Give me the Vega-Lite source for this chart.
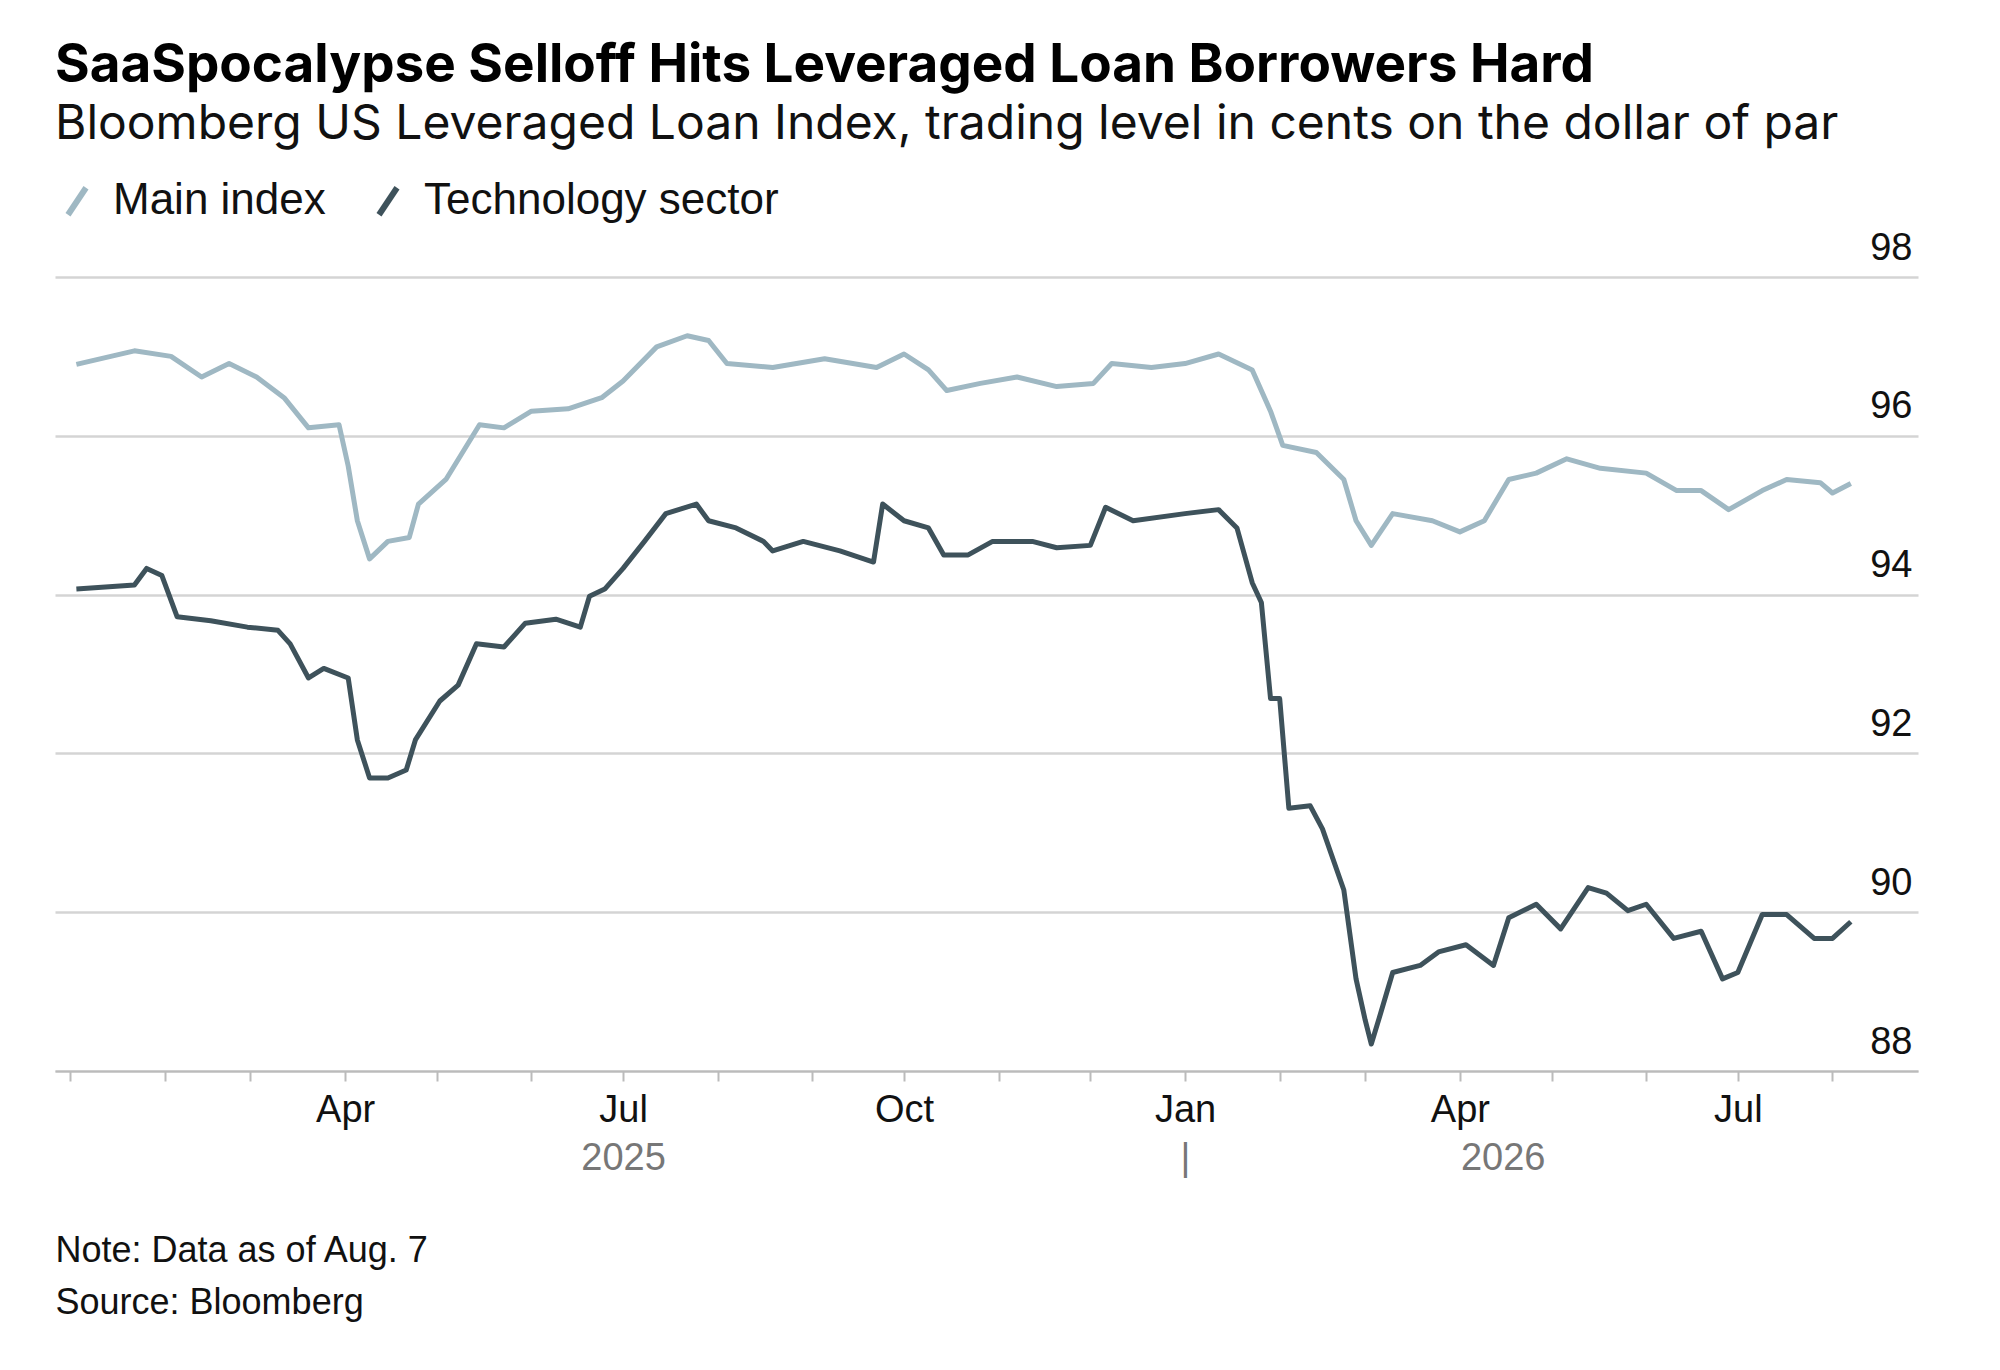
{
  "$schema": "https://vega.github.io/schema/vega-lite/v6.json",
  "width": 2000,
  "height": 1370,
  "autosize": {"type": "fit", "contains": "padding"},
  "padding": {"left": 55, "right": 82, "top": 40, "bottom": 50},
  "background": "white",
  "config": {
    "font": "Inter",
    "view": {"stroke": null},
    "axis": {"labelFont": "Liberation Sans", "labelFontSize": 38, "labelColor": "#111"},
    "legend": {"labelFont": "Liberation Sans", "labelFontSize": 44, "labelColor": "#111", "labelLimit": 0}
  },
  "title": {
    "text": "SaaSpocalypse Selloff Hits Leveraged Loan Borrowers Hard",
    "subtitle": "Bloomberg US Leveraged Loan Index, trading level in cents on the dollar of par",
    "anchor": "start",
    "font": "Inter",
    "fontSize": 53,
    "fontWeight": "bold",
    "color": "#000",
    "subtitleFont": "Inter",
    "subtitleFontSize": 48,
    "subtitleColor": "#111",
    "subtitlePadding": 8,
    "offset": 30
  },
  "datasets": {
    "loans": [
      {"date": "2025-01-03", "series": "Main index", "value": 96.9},
      {"date": "2025-01-22", "series": "Main index", "value": 97.07},
      {"date": "2025-02-03", "series": "Main index", "value": 97.0},
      {"date": "2025-02-13", "series": "Main index", "value": 96.74},
      {"date": "2025-02-22", "series": "Main index", "value": 96.91},
      {"date": "2025-03-03", "series": "Main index", "value": 96.74},
      {"date": "2025-03-12", "series": "Main index", "value": 96.48},
      {"date": "2025-03-20", "series": "Main index", "value": 96.1},
      {"date": "2025-03-30", "series": "Main index", "value": 96.14},
      {"date": "2025-04-02", "series": "Main index", "value": 95.62},
      {"date": "2025-04-05", "series": "Main index", "value": 94.93},
      {"date": "2025-04-09", "series": "Main index", "value": 94.45},
      {"date": "2025-04-15", "series": "Main index", "value": 94.67},
      {"date": "2025-04-22", "series": "Main index", "value": 94.72},
      {"date": "2025-04-25", "series": "Main index", "value": 95.14},
      {"date": "2025-05-04", "series": "Main index", "value": 95.45},
      {"date": "2025-05-15", "series": "Main index", "value": 96.14},
      {"date": "2025-05-23", "series": "Main index", "value": 96.1},
      {"date": "2025-06-01", "series": "Main index", "value": 96.31},
      {"date": "2025-06-13", "series": "Main index", "value": 96.34},
      {"date": "2025-06-24", "series": "Main index", "value": 96.48},
      {"date": "2025-07-01", "series": "Main index", "value": 96.69},
      {"date": "2025-07-12", "series": "Main index", "value": 97.12},
      {"date": "2025-07-22", "series": "Main index", "value": 97.26},
      {"date": "2025-07-29", "series": "Main index", "value": 97.2},
      {"date": "2025-08-04", "series": "Main index", "value": 96.91},
      {"date": "2025-08-19", "series": "Main index", "value": 96.86},
      {"date": "2025-09-05", "series": "Main index", "value": 96.97},
      {"date": "2025-09-22", "series": "Main index", "value": 96.86},
      {"date": "2025-10-01", "series": "Main index", "value": 97.03},
      {"date": "2025-10-09", "series": "Main index", "value": 96.83},
      {"date": "2025-10-15", "series": "Main index", "value": 96.57},
      {"date": "2025-10-26", "series": "Main index", "value": 96.66},
      {"date": "2025-11-07", "series": "Main index", "value": 96.74},
      {"date": "2025-11-20", "series": "Main index", "value": 96.62},
      {"date": "2025-12-02", "series": "Main index", "value": 96.66},
      {"date": "2025-12-08", "series": "Main index", "value": 96.91},
      {"date": "2025-12-21", "series": "Main index", "value": 96.86},
      {"date": "2026-01-01", "series": "Main index", "value": 96.91},
      {"date": "2026-01-12", "series": "Main index", "value": 97.03},
      {"date": "2026-01-23", "series": "Main index", "value": 96.83},
      {"date": "2026-01-29", "series": "Main index", "value": 96.31},
      {"date": "2026-02-02", "series": "Main index", "value": 95.88},
      {"date": "2026-02-13", "series": "Main index", "value": 95.79},
      {"date": "2026-02-22", "series": "Main index", "value": 95.45},
      {"date": "2026-02-26", "series": "Main index", "value": 94.93},
      {"date": "2026-03-03", "series": "Main index", "value": 94.62},
      {"date": "2026-03-10", "series": "Main index", "value": 95.02},
      {"date": "2026-03-23", "series": "Main index", "value": 94.93},
      {"date": "2026-04-01", "series": "Main index", "value": 94.79},
      {"date": "2026-04-09", "series": "Main index", "value": 94.93},
      {"date": "2026-04-17", "series": "Main index", "value": 95.45},
      {"date": "2026-04-26", "series": "Main index", "value": 95.53},
      {"date": "2026-05-06", "series": "Main index", "value": 95.71},
      {"date": "2026-05-17", "series": "Main index", "value": 95.59},
      {"date": "2026-06-01", "series": "Main index", "value": 95.53},
      {"date": "2026-06-11", "series": "Main index", "value": 95.31},
      {"date": "2026-06-19", "series": "Main index", "value": 95.31},
      {"date": "2026-06-28", "series": "Main index", "value": 95.07},
      {"date": "2026-07-09", "series": "Main index", "value": 95.31},
      {"date": "2026-07-17", "series": "Main index", "value": 95.45},
      {"date": "2026-07-28", "series": "Main index", "value": 95.41},
      {"date": "2026-08-01", "series": "Main index", "value": 95.28},
      {"date": "2026-08-07", "series": "Main index", "value": 95.4},
      {"date": "2025-01-03", "series": "Technology sector", "value": 94.07},
      {"date": "2025-01-22", "series": "Technology sector", "value": 94.12},
      {"date": "2025-01-26", "series": "Technology sector", "value": 94.33},
      {"date": "2025-01-31", "series": "Technology sector", "value": 94.24},
      {"date": "2025-02-05", "series": "Technology sector", "value": 93.72},
      {"date": "2025-02-16", "series": "Technology sector", "value": 93.67},
      {"date": "2025-02-28", "series": "Technology sector", "value": 93.59},
      {"date": "2025-03-10", "series": "Technology sector", "value": 93.55},
      {"date": "2025-03-14", "series": "Technology sector", "value": 93.38},
      {"date": "2025-03-20", "series": "Technology sector", "value": 92.95},
      {"date": "2025-03-25", "series": "Technology sector", "value": 93.07},
      {"date": "2025-04-02", "series": "Technology sector", "value": 92.95},
      {"date": "2025-04-05", "series": "Technology sector", "value": 92.17},
      {"date": "2025-04-09", "series": "Technology sector", "value": 91.69},
      {"date": "2025-04-15", "series": "Technology sector", "value": 91.69},
      {"date": "2025-04-21", "series": "Technology sector", "value": 91.79},
      {"date": "2025-04-24", "series": "Technology sector", "value": 92.17},
      {"date": "2025-05-02", "series": "Technology sector", "value": 92.66},
      {"date": "2025-05-08", "series": "Technology sector", "value": 92.86},
      {"date": "2025-05-14", "series": "Technology sector", "value": 93.38},
      {"date": "2025-05-23", "series": "Technology sector", "value": 93.34},
      {"date": "2025-05-30", "series": "Technology sector", "value": 93.64},
      {"date": "2025-06-09", "series": "Technology sector", "value": 93.69},
      {"date": "2025-06-17", "series": "Technology sector", "value": 93.59},
      {"date": "2025-06-20", "series": "Technology sector", "value": 93.98},
      {"date": "2025-06-25", "series": "Technology sector", "value": 94.07},
      {"date": "2025-07-01", "series": "Technology sector", "value": 94.33},
      {"date": "2025-07-08", "series": "Technology sector", "value": 94.67},
      {"date": "2025-07-15", "series": "Technology sector", "value": 95.02},
      {"date": "2025-07-25", "series": "Technology sector", "value": 95.14},
      {"date": "2025-07-29", "series": "Technology sector", "value": 94.93},
      {"date": "2025-08-07", "series": "Technology sector", "value": 94.84},
      {"date": "2025-08-16", "series": "Technology sector", "value": 94.67},
      {"date": "2025-08-19", "series": "Technology sector", "value": 94.55},
      {"date": "2025-08-29", "series": "Technology sector", "value": 94.67},
      {"date": "2025-09-10", "series": "Technology sector", "value": 94.55},
      {"date": "2025-09-21", "series": "Technology sector", "value": 94.41},
      {"date": "2025-09-24", "series": "Technology sector", "value": 95.14},
      {"date": "2025-10-01", "series": "Technology sector", "value": 94.93},
      {"date": "2025-10-09", "series": "Technology sector", "value": 94.84},
      {"date": "2025-10-14", "series": "Technology sector", "value": 94.5},
      {"date": "2025-10-22", "series": "Technology sector", "value": 94.5},
      {"date": "2025-10-30", "series": "Technology sector", "value": 94.67},
      {"date": "2025-11-12", "series": "Technology sector", "value": 94.67},
      {"date": "2025-11-20", "series": "Technology sector", "value": 94.59},
      {"date": "2025-12-01", "series": "Technology sector", "value": 94.62},
      {"date": "2025-12-06", "series": "Technology sector", "value": 95.1},
      {"date": "2025-12-15", "series": "Technology sector", "value": 94.93},
      {"date": "2026-01-01", "series": "Technology sector", "value": 95.02},
      {"date": "2026-01-12", "series": "Technology sector", "value": 95.07},
      {"date": "2026-01-18", "series": "Technology sector", "value": 94.84},
      {"date": "2026-01-23", "series": "Technology sector", "value": 94.15},
      {"date": "2026-01-26", "series": "Technology sector", "value": 93.9},
      {"date": "2026-01-29", "series": "Technology sector", "value": 92.69},
      {"date": "2026-02-01", "series": "Technology sector", "value": 92.69},
      {"date": "2026-02-04", "series": "Technology sector", "value": 91.31},
      {"date": "2026-02-11", "series": "Technology sector", "value": 91.34},
      {"date": "2026-02-15", "series": "Technology sector", "value": 91.05},
      {"date": "2026-02-22", "series": "Technology sector", "value": 90.28},
      {"date": "2026-02-26", "series": "Technology sector", "value": 89.16},
      {"date": "2026-03-01", "series": "Technology sector", "value": 88.64},
      {"date": "2026-03-03", "series": "Technology sector", "value": 88.34},
      {"date": "2026-03-06", "series": "Technology sector", "value": 88.72},
      {"date": "2026-03-10", "series": "Technology sector", "value": 89.24},
      {"date": "2026-03-19", "series": "Technology sector", "value": 89.33},
      {"date": "2026-03-25", "series": "Technology sector", "value": 89.5},
      {"date": "2026-04-03", "series": "Technology sector", "value": 89.59},
      {"date": "2026-04-12", "series": "Technology sector", "value": 89.33},
      {"date": "2026-04-17", "series": "Technology sector", "value": 89.93},
      {"date": "2026-04-26", "series": "Technology sector", "value": 90.1},
      {"date": "2026-05-04", "series": "Technology sector", "value": 89.79},
      {"date": "2026-05-13", "series": "Technology sector", "value": 90.31},
      {"date": "2026-05-19", "series": "Technology sector", "value": 90.24},
      {"date": "2026-05-26", "series": "Technology sector", "value": 90.02},
      {"date": "2026-06-01", "series": "Technology sector", "value": 90.1},
      {"date": "2026-06-10", "series": "Technology sector", "value": 89.67},
      {"date": "2026-06-19", "series": "Technology sector", "value": 89.76},
      {"date": "2026-06-26", "series": "Technology sector", "value": 89.16},
      {"date": "2026-07-01", "series": "Technology sector", "value": 89.24},
      {"date": "2026-07-09", "series": "Technology sector", "value": 89.97},
      {"date": "2026-07-17", "series": "Technology sector", "value": 89.97},
      {"date": "2026-07-26", "series": "Technology sector", "value": 89.67},
      {"date": "2026-08-01", "series": "Technology sector", "value": 89.67},
      {"date": "2026-08-07", "series": "Technology sector", "value": 89.88}
    ]
  },
  "data": {"name": "loans"},
  "resolve": {"axis": {"x": "independent"}},
  "layer": [
    {
      "mark": {"type": "line", "strokeWidth": 5, "strokeJoin": "round"},
      "encoding": {
        "x": {
          "field": "date",
          "type": "temporal",
          "scale": {"type": "utc", "domain": ["2024-12-27", "2026-08-29"]},
          "axis": {
            "title": null,
            "orient": "bottom",
            "grid": false,
            "domainColor": "#bbb",
            "domainWidth": 2,
            "tickColor": "#bbb",
            "tickWidth": 2,
            "tickSize": 10,
            "labelPadding": 10,
            "values": [
              {"year": 2025, "month": 1, "date": 1, "utc": true},
              {"year": 2025, "month": 2, "date": 1, "utc": true},
              {"year": 2025, "month": 3, "date": 1, "utc": true},
              {"year": 2025, "month": 4, "date": 1, "utc": true},
              {"year": 2025, "month": 5, "date": 1, "utc": true},
              {"year": 2025, "month": 6, "date": 1, "utc": true},
              {"year": 2025, "month": 7, "date": 1, "utc": true},
              {"year": 2025, "month": 8, "date": 1, "utc": true},
              {"year": 2025, "month": 9, "date": 1, "utc": true},
              {"year": 2025, "month": 10, "date": 1, "utc": true},
              {"year": 2025, "month": 11, "date": 1, "utc": true},
              {"year": 2025, "month": 12, "date": 1, "utc": true},
              {"year": 2026, "month": 1, "date": 1, "utc": true},
              {"year": 2026, "month": 2, "date": 1, "utc": true},
              {"year": 2026, "month": 3, "date": 1, "utc": true},
              {"year": 2026, "month": 4, "date": 1, "utc": true},
              {"year": 2026, "month": 5, "date": 1, "utc": true},
              {"year": 2026, "month": 6, "date": 1, "utc": true},
              {"year": 2026, "month": 7, "date": 1, "utc": true},
              {"year": 2026, "month": 8, "date": 1, "utc": true}
            ],
            "labelExpr": "(utcmonth(datum.value) % 3 == 0 && !(utcmonth(datum.value) == 0 && utcyear(datum.value) == 2025)) ? utcFormat(datum.value, '%b') : ''"
          }
        },
        "y": {
          "field": "value",
          "type": "quantitative",
          "scale": {"domain": [88, 98]},
          "axis": {
            "title": null,
            "orient": "right",
            "values": [88, 90, 92, 94, 96, 98],
            "format": "d",
            "domain": false,
            "ticks": false,
            "grid": true,
            "gridColor": "#d4d4d4",
            "gridWidth": 2.5,
            "labelAlign": "right",
            "labelBaseline": "bottom",
            "labelPadding": -6,
            "labelOffset": -10
          }
        },
        "color": {
          "field": "series",
          "type": "nominal",
          "scale": {"domain": ["Main index", "Technology sector"], "range": ["#9fb8c3", "#3e525b"]},
          "legend": {
            "title": null,
            "orient": "top",
            "direction": "horizontal",
            "symbolType": "M-0.6,0.9L0.6,-0.9",
            "symbolStrokeWidth": 6,
            "symbolSize": 900,
            "columnPadding": 40,
            "labelOffset": 14,
            "offset": 50,
            "padding": 0
          }
        }
      }
    },
    {
      "mark": {"type": "line", "opacity": 0},
      "encoding": {
        "x": {
          "field": "date",
          "type": "temporal",
          "axis": {
            "orient": "bottom",
            "title": ["Note: Data as of Aug. 7", "Source: Bloomberg"],
            "titleFont": "Liberation Sans",
            "titleFontSize": 36,
            "titleFontWeight": "normal",
            "titleColor": "#111",
            "titleAnchor": "start",
            "titleAlign": "left",
            "titleLineHeight": 52,
            "titlePadding": 56,
            "domain": false,
            "ticks": false,
            "grid": false,
            "labelColor": "#777",
            "labelFontSize": 38,
            "labelPadding": 0,
            "offset": 68,
            "values": [
              {"year": 2025, "month": 7, "date": 1, "utc": true},
              {"year": 2026, "month": 1, "date": 1, "utc": true},
              {"year": 2026, "month": 4, "date": 15, "utc": true}
            ],
            "labelExpr": "utcmonth(datum.value) == 0 ? '|' : utcFormat(datum.value, '%Y')"
          }
        },
        "y": {"field": "value", "type": "quantitative"}
      }
    }
  ]
}
